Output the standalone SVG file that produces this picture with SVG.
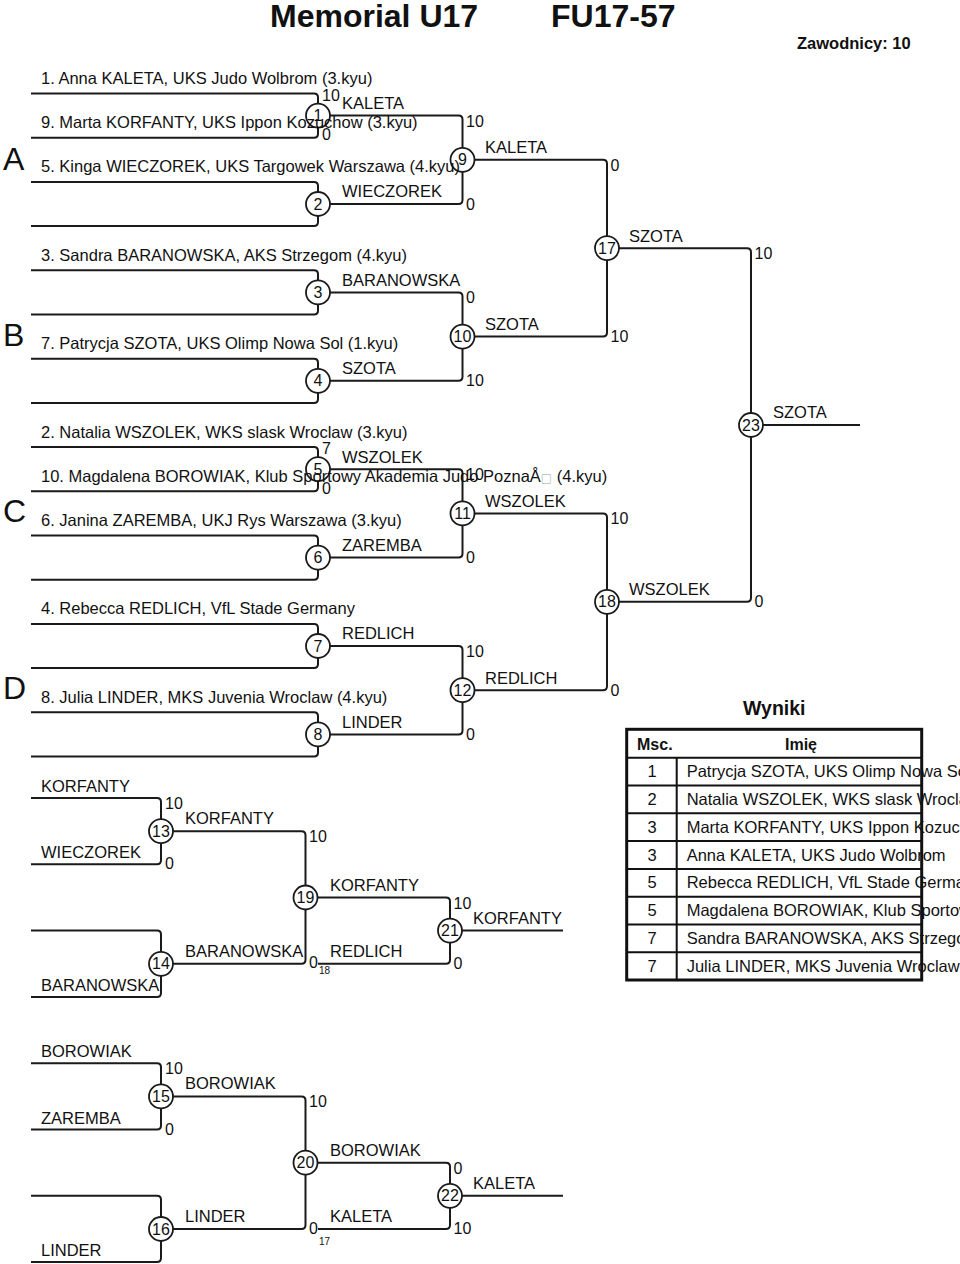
<svg xmlns="http://www.w3.org/2000/svg" width="960" height="1264" viewBox="0 0 960 1264">
<style>
text{font-family:"Liberation Sans",Arial,"DejaVu Sans",sans-serif;fill:#111;font-size:16.5px}
.t{font-size:32px;font-weight:bold}
.b{font-weight:bold}
.g{font-size:32px}
.c{text-anchor:middle}
.n{font-size:16px}
.s{font-size:10px}
.tofu{fill:#bbb;font-family:"DejaVu Sans",sans-serif;font-size:12px}
.ln{fill:none;stroke:#1a1a1a;stroke-width:2}
.nd circle{fill:#fff;stroke:#1a1a1a;stroke-width:1.8}
.tb{fill:none;stroke:#111}
</style>
<rect width="960" height="1264" fill="#fff"/>
<g id="header">
<text class="t" x="270" y="27">Memorial U17</text>
<text class="t" x="551" y="27">FU17-57</text>
<text class="b" x="797" y="49" style="font-size:16.5px">Zawodnicy: 10</text>
<text class="g" x="3" y="170">A</text>
<text class="g" x="3" y="345.5">B</text>
<text class="g" x="3" y="522">C</text>
<text class="g" x="3" y="699">D</text>
</g>
<g id="connectors" class="ln">
<path d="M31,93.5H314Q318,93.5 318,97.5V133.7Q318,137.7 314,137.7H31"/>
<path d="M31,181.9H314Q318,181.9 318,185.9V222.1Q318,226.1 314,226.1H31"/>
<path d="M31,270.3H314Q318,270.3 318,274.3V310.5Q318,314.5 314,314.5H31"/>
<path d="M31,358.7H314Q318,358.7 318,362.7V398.9Q318,402.9 314,402.9H31"/>
<path d="M31,447.1H314Q318,447.1 318,451.1V487.3Q318,491.3 314,491.3H31"/>
<path d="M31,535.5H314Q318,535.5 318,539.5V575.7Q318,579.7 314,579.7H31"/>
<path d="M31,623.9H314Q318,623.9 318,627.9V664.1Q318,668.1 314,668.1H31"/>
<path d="M31,712.3H314Q318,712.3 318,716.3V752.5Q318,756.5 314,756.5H31"/>
<path d="M318,115.6H458.5Q462.5,115.6 462.5,119.6V200Q462.5,204 458.5,204H318"/>
<path d="M318,292.4H458.5Q462.5,292.4 462.5,296.4V376.8Q462.5,380.8 458.5,380.8H318"/>
<path d="M318,469.2H458.5Q462.5,469.2 462.5,473.2V553.6Q462.5,557.6 458.5,557.6H318"/>
<path d="M318,646H458.5Q462.5,646 462.5,650V730.4Q462.5,734.4 458.5,734.4H318"/>
<path d="M462.5,159.8H603Q607,159.8 607,163.8V332.6Q607,336.6 603,336.6H462.5"/>
<path d="M462.5,513.4H603Q607,513.4 607,517.4V686.2Q607,690.2 603,690.2H462.5"/>
<path d="M607,248.2H747Q751,248.2 751,252.2V597.8Q751,601.8 747,601.8H607"/>
<path d="M751,425H860"/>
<path d="M31,798H157Q161,798 161,802V860.3Q161,864.3 157,864.3H31"/>
<path d="M31,930.6H157Q161,930.6 161,934.6V992.9Q161,996.9 157,996.9H31"/>
<path d="M161,831.2H301.5Q305.5,831.2 305.5,835.2V959.8Q305.5,963.8 301.5,963.8H161"/>
<path d="M305.5,897.5H446Q450,897.5 450,901.5V959.8Q450,963.8 446,963.8H318"/>
<path d="M450,930.6H563"/>
<path d="M31,1063.2H157Q161,1063.2 161,1067.2V1125.5Q161,1129.5 157,1129.5H31"/>
<path d="M31,1195.8H157Q161,1195.8 161,1199.8V1258.1Q161,1262.1 157,1262.1H31"/>
<path d="M161,1096.4H301.5Q305.5,1096.4 305.5,1100.4V1225Q305.5,1229 301.5,1229H161"/>
<path d="M305.5,1162.7H446Q450,1162.7 450,1166.7V1225Q450,1229 446,1229H318"/>
<path d="M450,1195.8H563"/>
</g>
<g id="m1" class="nd"><circle cx="318" cy="115.6" r="12"/><text class="c n" x="318" y="121.2">1</text></g>
<g id="m2" class="nd"><circle cx="318" cy="204" r="12"/><text class="c n" x="318" y="209.6">2</text></g>
<g id="m3" class="nd"><circle cx="318" cy="292.4" r="12"/><text class="c n" x="318" y="298">3</text></g>
<g id="m4" class="nd"><circle cx="318" cy="380.8" r="12"/><text class="c n" x="318" y="386.4">4</text></g>
<g id="m5" class="nd"><circle cx="318" cy="469.2" r="12"/><text class="c n" x="318" y="474.8">5</text></g>
<g id="m6" class="nd"><circle cx="318" cy="557.6" r="12"/><text class="c n" x="318" y="563.2">6</text></g>
<g id="m7" class="nd"><circle cx="318" cy="646" r="12"/><text class="c n" x="318" y="651.6">7</text></g>
<g id="m8" class="nd"><circle cx="318" cy="734.4" r="12"/><text class="c n" x="318" y="740">8</text></g>
<g id="m9" class="nd"><circle cx="462.5" cy="159.8" r="12"/><text class="c n" x="462.5" y="165.4">9</text></g>
<g id="m10" class="nd"><circle cx="462.5" cy="336.6" r="12"/><text class="c n" x="462.5" y="342.2">10</text></g>
<g id="m11" class="nd"><circle cx="462.5" cy="513.4" r="12"/><text class="c n" x="462.5" y="519">11</text></g>
<g id="m12" class="nd"><circle cx="462.5" cy="690.2" r="12"/><text class="c n" x="462.5" y="695.8">12</text></g>
<g id="m17" class="nd"><circle cx="607" cy="248.2" r="12"/><text class="c n" x="607" y="253.8">17</text></g>
<g id="m18" class="nd"><circle cx="607" cy="601.8" r="12"/><text class="c n" x="607" y="607.4">18</text></g>
<g id="m23" class="nd"><circle cx="751" cy="425" r="12"/><text class="c n" x="751" y="430.6">23</text></g>
<g id="m13" class="nd"><circle cx="161" cy="831.2" r="12"/><text class="c n" x="161" y="836.8">13</text></g>
<g id="m14" class="nd"><circle cx="161" cy="963.8" r="12"/><text class="c n" x="161" y="969.4">14</text></g>
<g id="m19" class="nd"><circle cx="305.5" cy="897.5" r="12"/><text class="c n" x="305.5" y="903.1">19</text></g>
<g id="m21" class="nd"><circle cx="450" cy="930.6" r="12"/><text class="c n" x="450" y="936.2">21</text></g>
<g id="m15" class="nd"><circle cx="161" cy="1096.4" r="12"/><text class="c n" x="161" y="1102">15</text></g>
<g id="m16" class="nd"><circle cx="161" cy="1229" r="12"/><text class="c n" x="161" y="1234.6">16</text></g>
<g id="m20" class="nd"><circle cx="305.5" cy="1162.7" r="12"/><text class="c n" x="305.5" y="1168.3">20</text></g>
<g id="m22" class="nd"><circle cx="450" cy="1195.8" r="12"/><text class="c n" x="450" y="1201.4">22</text></g>
<g id="entries">
<text x="41" y="84">1. Anna KALETA, UKS Judo Wolbrom (3.kyu)</text>
<text x="41" y="128.2">9. Marta KORFANTY, UKS Ippon Kozuchow (3.kyu)</text>
<text x="41" y="172.4">5. Kinga WIECZOREK, UKS Targowek Warszawa (4.kyu)</text>
<text x="41" y="260.8">3. Sandra BARANOWSKA, AKS Strzegom (4.kyu)</text>
<text x="41" y="349.2">7. Patrycja SZOTA, UKS Olimp Nowa Sol (1.kyu)</text>
<text x="41" y="437.6">2. Natalia WSZOLEK, WKS slask Wroclaw (3.kyu)</text>
<text x="41" y="481.8">10. Magdalena BOROWIAK, Klub Sportowy Akademia Judo PoznaÅ<tspan class="tofu">□</tspan> (4.kyu)</text>
<text x="41" y="526">6. Janina ZAREMBA, UKJ Rys Warszawa (3.kyu)</text>
<text x="41" y="614.4">4. Rebecca REDLICH, VfL Stade Germany</text>
<text x="41" y="702.8">8. Julia LINDER, MKS Juvenia Wroclaw (4.kyu)</text>
<text x="41" y="792">KORFANTY</text>
<text x="41" y="858.3">WIECZOREK</text>
<text x="41" y="990.9">BARANOWSKA</text>
<text x="41" y="1057.2">BOROWIAK</text>
<text x="41" y="1123.5">ZAREMBA</text>
<text x="41" y="1256.1">LINDER</text>
</g>
<g id="winners">
<text x="342" y="109">KALETA</text>
<text x="342" y="197.4">WIECZOREK</text>
<text x="342" y="285.8">BARANOWSKA</text>
<text x="342" y="374.2">SZOTA</text>
<text x="342" y="462.6">WSZOLEK</text>
<text x="342" y="551">ZAREMBA</text>
<text x="342" y="639.4">REDLICH</text>
<text x="342" y="727.8">LINDER</text>
<text x="485" y="153.2">KALETA</text>
<text x="485" y="330">SZOTA</text>
<text x="485" y="506.8">WSZOLEK</text>
<text x="485" y="683.6">REDLICH</text>
<text x="629" y="241.6">SZOTA</text>
<text x="629" y="595.2">WSZOLEK</text>
<text x="773" y="418.4">SZOTA</text>
<text x="185" y="824.2">KORFANTY</text>
<text x="185" y="956.8">BARANOWSKA</text>
<text x="330" y="890.5">KORFANTY</text>
<text x="330" y="956.8">REDLICH</text>
<text x="473" y="923.6">KORFANTY</text>
<text x="185" y="1089.4">BOROWIAK</text>
<text x="185" y="1222">LINDER</text>
<text x="330" y="1155.7">BOROWIAK</text>
<text x="330" y="1222">KALETA</text>
<text x="473" y="1188.8">KALETA</text>
</g>
<g id="scores" class="n">
<text class="n" x="322" y="100.7">10</text><text class="n" x="322" y="140">0</text>
<text class="n" x="322" y="454">7</text><text class="n" x="322" y="493.6">0</text>
<text class="n" x="466" y="126.6">10</text><text class="n" x="466" y="209.5">0</text>
<text class="n" x="466" y="303.4">0</text><text class="n" x="466" y="386.3">10</text>
<text class="n" x="466" y="480.2">10</text><text class="n" x="466" y="563.1">0</text>
<text class="n" x="466" y="657">10</text><text class="n" x="466" y="739.9">0</text>
<text class="n" x="610.5" y="170.8">0</text><text class="n" x="610.5" y="342.1">10</text>
<text class="n" x="610.5" y="524.4">10</text><text class="n" x="610.5" y="695.7">0</text>
<text class="n" x="754.5" y="259.2">10</text><text class="n" x="754.5" y="607.3">0</text>
<text class="n" x="165" y="809">10</text><text class="n" x="165" y="869.3">0</text>
<text class="n" x="309" y="842.2">10</text><text class="n" x="309" y="968.3">0</text><text class="s" x="319" y="974">18</text>
<text class="n" x="453.5" y="908.5">10</text><text class="n" x="453.5" y="969">0</text>
<text class="n" x="165" y="1074.2">10</text><text class="n" x="165" y="1134.5">0</text>
<text class="n" x="309" y="1107.4">10</text><text class="n" x="309" y="1233.5">0</text><text class="s" x="319" y="1244.5">17</text>
<text class="n" x="453.5" y="1173.7">0</text><text class="n" x="453.5" y="1234">10</text>
</g>
<g id="results">
<text class="b" x="743" y="715" style="font-size:19.5px">Wyniki</text>
<text class="b" x="637" y="750" style="font-size:16px">Msc.</text>
<text class="b c" x="801" y="750" style="font-size:16px">Imię</text>
<text class="c" x="652" y="777.2">1</text><text x="686.7" y="777.2">Patrycja SZOTA, UKS Olimp Nowa Sol</text>
<text class="c" x="652" y="805">2</text><text x="686.7" y="805">Natalia WSZOLEK, WKS slask Wroclaw</text>
<text class="c" x="652" y="832.8">3</text><text x="686.7" y="832.8">Marta KORFANTY, UKS Ippon Kozuchow</text>
<text class="c" x="652" y="860.6">3</text><text x="686.7" y="860.6">Anna KALETA, UKS Judo Wolbrom</text>
<text class="c" x="652" y="888.4">5</text><text x="686.7" y="888.4">Rebecca REDLICH, VfL Stade Germany</text>
<text class="c" x="652" y="916.2">5</text><text x="686.7" y="916.2">Magdalena BOROWIAK, Klub Sportowy</text>
<text class="c" x="652" y="944">7</text><text x="686.7" y="944">Sandra BARANOWSKA, AKS Strzegom</text>
<text class="c" x="652" y="971.8">7</text><text x="686.7" y="971.8">Julia LINDER, MKS Juvenia Wroclaw</text>
<g class="tb" stroke-width="2">
<path d="M626.7,757.7H921.7M626.7,785.5H921.7M626.7,813.3H921.7M626.7,841.1H921.7M626.7,868.9H921.7M626.7,896.7H921.7M626.7,924.5H921.7M626.7,952.3H921.7M676.7,757.7V980"/>
</g>
<rect class="tb" x="626.7" y="729.3" width="295" height="250.7" stroke-width="3"/>
</g>
</svg>
